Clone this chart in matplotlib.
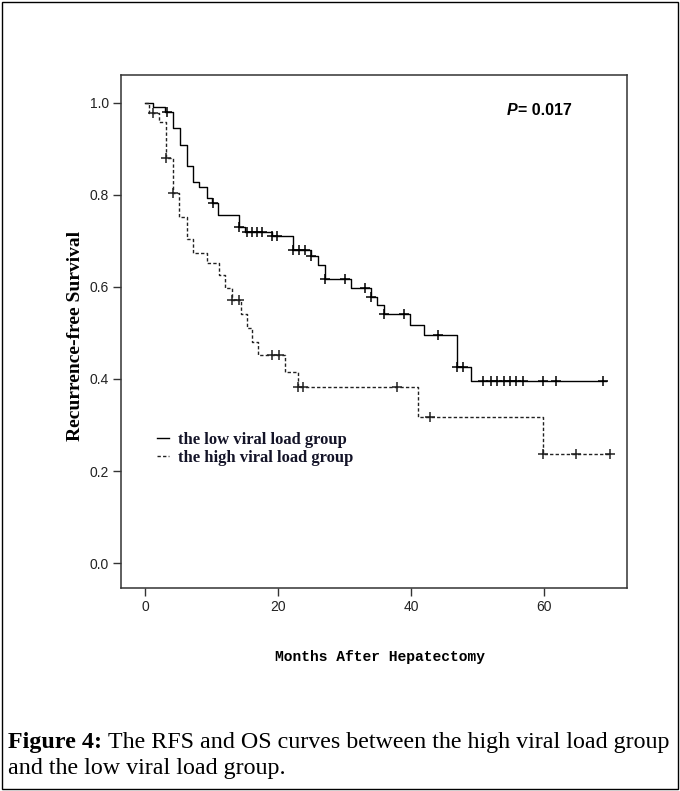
import numpy as np
import matplotlib
matplotlib.use('Agg')
import matplotlib.pyplot as plt
from matplotlib.patches import Rectangle

# Kaplan-Meier steps (months, survival)
low_times = [0, 1.25, 3.0, 4.16, 5.26, 6.35, 7.16, 8.16, 9.27, 10.0, 11.0, 14.15, 15.0, 19.1,
             22.2, 25.0, 26.0, 27.0, 30.9, 33.9, 34.9, 35.9, 39.8, 41.9, 46.9, 49.0]
low_surv = [1.0, 0.991, 0.980, 0.944, 0.908, 0.863, 0.828, 0.816, 0.792, 0.782, 0.756, 0.731,
            0.720, 0.711, 0.680, 0.666, 0.648, 0.617, 0.597, 0.579, 0.561, 0.540, 0.517, 0.496,
            0.425, 0.396]
low_end = 69.3
low_censor = [3.25, 10.26, 14.15, 15.25, 16.0, 16.76, 17.5, 19.1, 19.9, 22.2, 23.1, 24.0, 25.0,
              27.0, 30.0, 33.0, 33.9, 35.9, 38.9, 44.0, 46.9, 47.8, 50.8, 51.9, 52.9, 53.9, 54.9,
              55.8, 56.8, 59.8, 61.8, 68.8]

high_times = [0, 0.65, 2.15, 3.15, 4.15, 5.15, 6.35, 7.15, 9.25, 11.15, 12.0, 13.0, 14.4, 15.3,
              16.0, 17.0, 21.0, 23.0, 41.0, 59.8]
high_surv = [1.0, 0.977, 0.957, 0.879, 0.803, 0.752, 0.703, 0.674, 0.651, 0.626, 0.597, 0.572,
             0.540, 0.510, 0.480, 0.451, 0.416, 0.382, 0.317, 0.237]
high_end = 69.8
high_censor = [1.15, 3.15, 4.15, 13.1, 14.1, 19.1, 20.1, 23.0, 23.8, 37.8, 42.8, 59.8, 64.8, 69.8]

x_ticks = [0, 20, 40, 60]
y_ticks = [0.0, 0.2, 0.4, 0.6, 0.8, 1.0]
p_label = '0.017'
labels = ['the low viral load group', 'the high viral load group']

W, H = 680, 791
fig = plt.figure(figsize=(W / 100, H / 100), dpi=100)
ax = fig.add_axes([120.7 / W, 1 - 588.3 / H, (627 - 120.7) / W, (588.3 - 75) / H])


def km(ax, times, surv, end, cens, **kw):
	t = np.append(times, end)
	s = np.append(surv, surv[-1])
	line, = ax.step(t, s, where='post', **kw)
	idx = np.searchsorted(times, cens, side='right') - 1
	ax.plot(cens, np.asarray(surv)[idx], ls='none', marker='+', ms=6.5, mew=1.1, color=kw.get('color'))
	return line


l1 = km(ax, low_times, low_surv, low_end, low_censor, color='black', lw=1.0)
l2 = km(ax, high_times, high_surv, high_end, high_censor, color='#222222', lw=1.0, ls=(0, (2.4, 1.6)))

ax.set_xlim(-3.65, 72.4)
ax.set_ylim(-0.0545, 1.06)
ax.set_xticks(x_ticks)
ax.set_yticks(y_ticks)
ax.set_yticklabels(['%.1f' % v for v in y_ticks])
for s in ax.spines.values():
	s.set_color('#333333'); s.set_linewidth(1.1)
ax.tick_params(direction='out', length=6, width=1.0, color='#333333', labelsize=10, labelcolor='#222222',
               pad=2.5)
for lab in ax.get_xticklabels() + ax.get_yticklabels():
	lab.set_family('Liberation Sans')

leg = ax.legend([l1, l2], labels, loc='upper left', bbox_to_anchor=(0.072, 0.305), frameon=False,
                handlelength=0.7, handletextpad=0.55, labelspacing=0.15, borderpad=0, borderaxespad=0,
                prop={'family': 'Liberation Serif', 'weight': 'bold', 'size': 12})
for t in leg.get_texts():
	t.set_color('#141428')

fig.text(75 / W, 1 - 335.5 / H, 'Recurrence-free Survival', rotation=90, ha='center', va='center',
         family='Liberation Serif', weight='bold', size=14)
fig.text(380 / W, 1 - 657.5 / H, 'Months After Hepatectomy', ha='center', va='center',
         family='Liberation Mono', weight='bold', size=10.5)

r = fig.canvas.get_renderer()


def put_seq(x, y, parts):
	for txt, kw in parts:
		t = fig.text(x / W, 1 - y / H, txt, ha='left', va='center', **kw)
		x += t.get_window_extent(r).width


put_seq(507, 110.7, [('P', dict(family='Liberation Sans', weight='bold', style='italic', size=11.5)),
                     ('= ' + p_label, dict(family='Liberation Sans', weight='bold', size=11.5))])

cap = dict(family='Liberation Serif', size=17.3)
put_seq(8, 742.6, [('Figure 4: ', dict(cap, weight='bold')),
                   ('The RFS and OS curves between the high viral load group', cap)])
put_seq(8, 768.8, [('and the low viral load group.', cap)])

fig.patches.append(Rectangle((2 / W, 2 / H), (W - 4) / W, (H - 4) / H, transform=fig.transFigure,
                             fill=False, lw=1.0, ec='black'))
fig.savefig('out.png', dpi=100)
